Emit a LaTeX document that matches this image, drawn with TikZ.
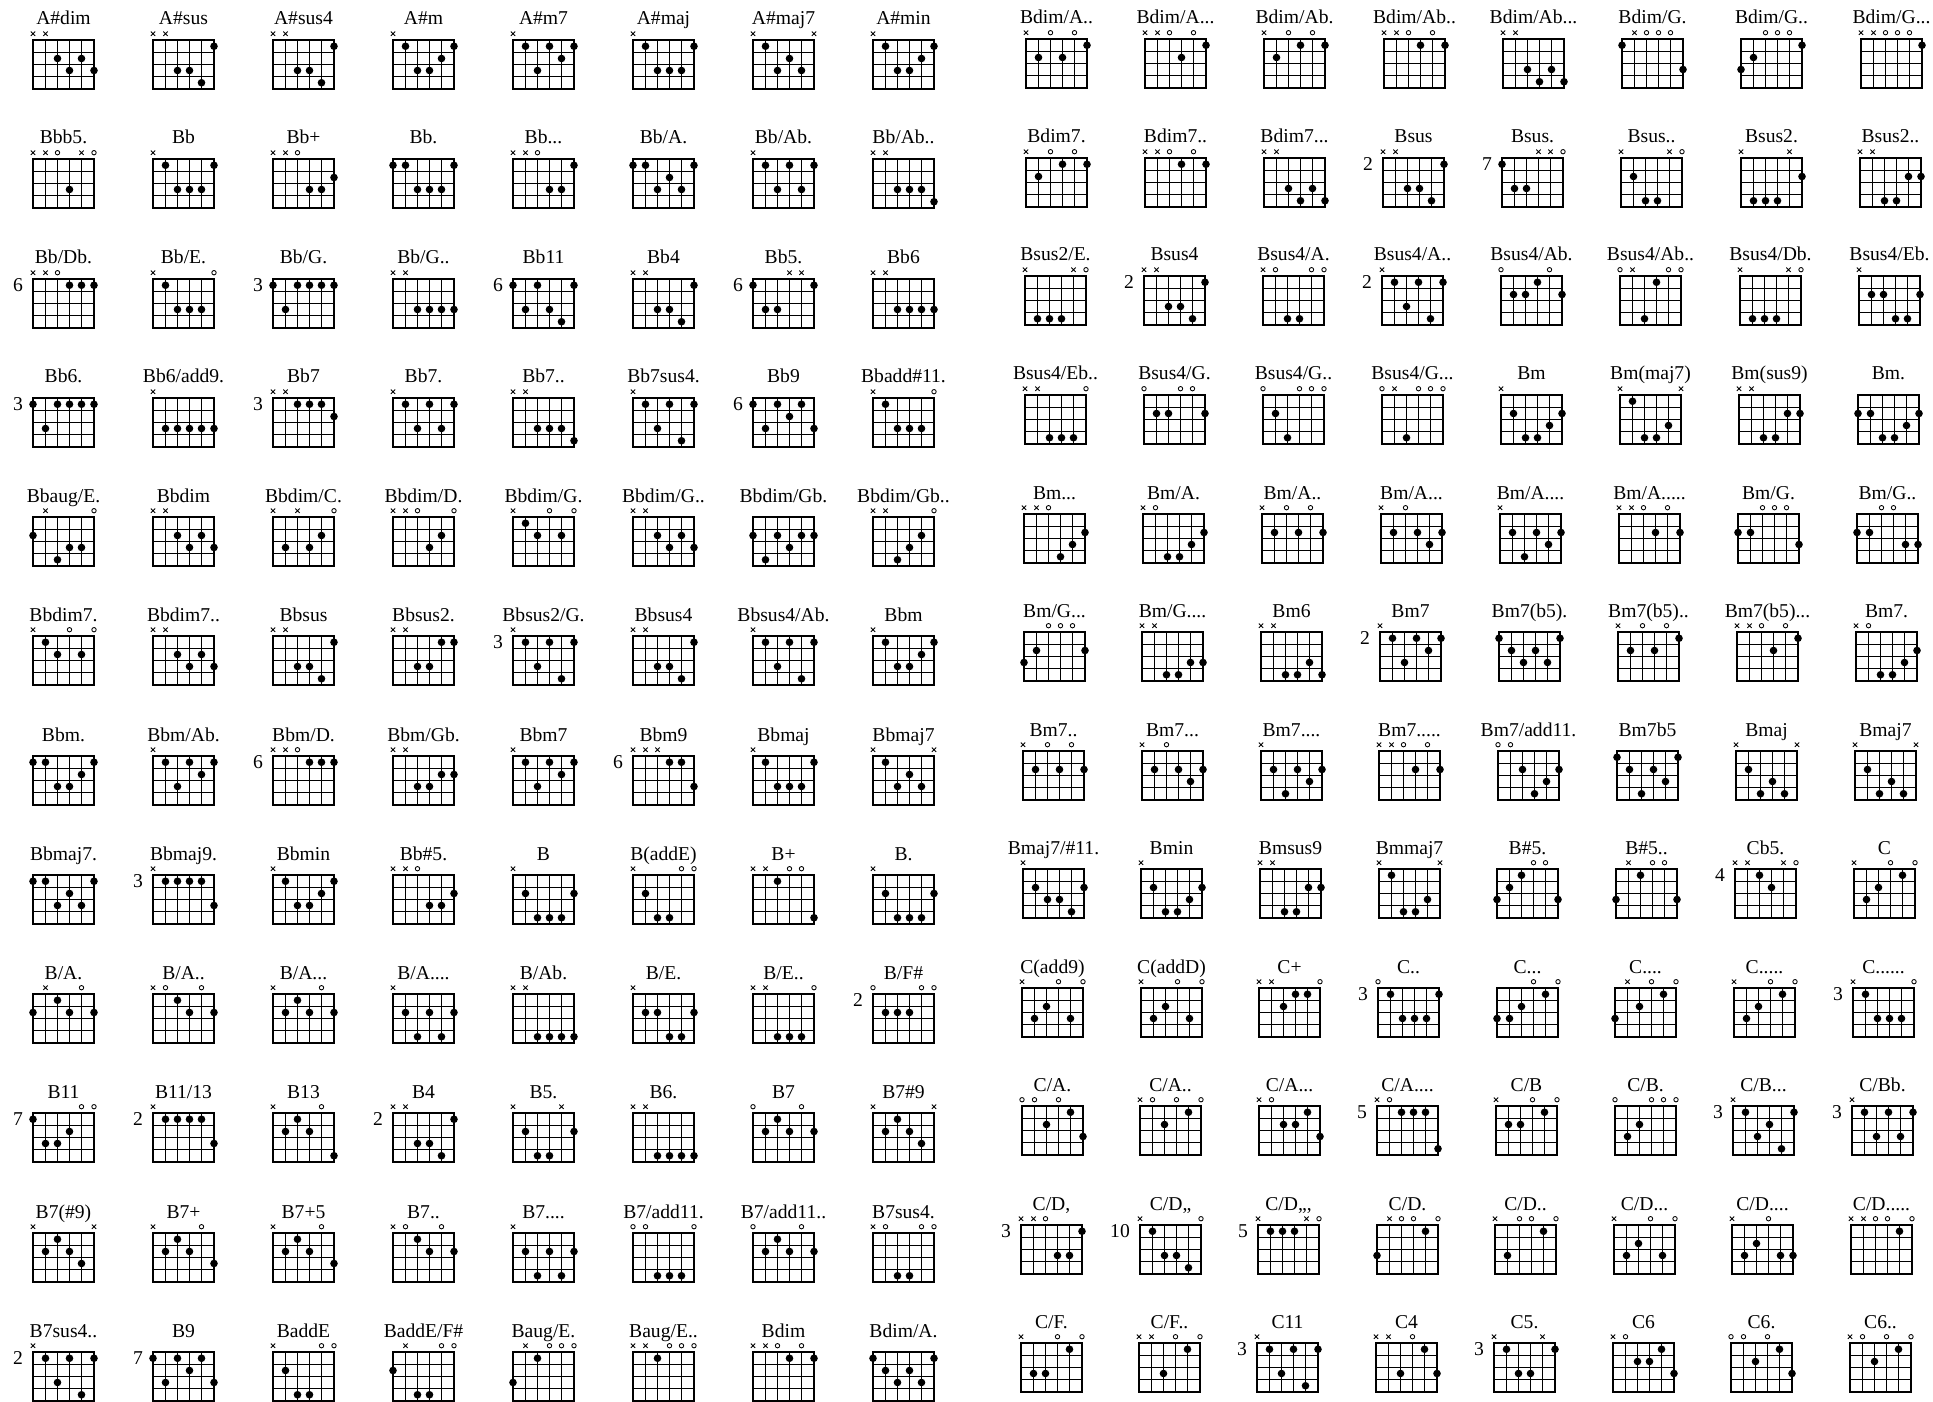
\documentclass[tikz,border=0pt]{standalone}
\usepackage{fontspec}
\setmainfont{Liberation Serif}
\tikzset{
  fretl/.style={line width=1.25bp},
  frame/.style={line width=2.2bp},
  mk/.style={line width=0.85bp},
  lbl/.style={font=\fontsize{19.6bp}{22bp}\selectfont, anchor=base, inner sep=0pt},
  frl/.style={font=\fontsize{19.6bp}{22bp}\selectfont, anchor=east, inner sep=0pt},
}
\newcommand\chd[6]{%
 \begin{scope}[shift={(#1,#2)}]
  \foreach \k in {12.5,24.5,36.5} \draw[fretl] (0,\k) -- (61,\k);
  \foreach \k in {12.5,24.5,36.5,48.5} \draw[fretl] (\k,0) -- (\k,49);
  \draw[frame] (0,0) rectangle (61,49);
  \node[lbl] (n#3) at (30.5,-15) {#4};
  \foreach \v [count=\i from 0] in {#5} {
    \pgfmathsetmacro\sx{{0,12.5,24.5,36.5,48.5,61}[\i]}
    \if x\v \draw[mk] (\sx-2.2,-8.5) -- (\sx+2.2,-4.1) (\sx-2.2,-4.1) -- (\sx+2.2,-8.5);
    \else\if o\v \draw[mk] (\sx,-6.3) circle (2.2bp);
    \else
      \pgfmathsetmacro\sy{{6.25,18.5,30.5,42.75}[\v-1]}
      \fill (\sx,\sy) circle (3.8bp);
    \fi\fi
  }
  \if\relax\detokenize{#6}\relax\else \node[frl] (f#3) at (-10,6.25) {#6};\fi
 \end{scope}}
\newcommand\cL[5]{%
  \pgfmathsetmacro\gx{round(32.7+120*#2)}%
  \pgfmathsetmacro\gy{round(40+119.27*#1)}%
  \chd{\gx}{\gy}{L#1-#2}{#3}{#4}{#5}}
\newcommand\cR[5]{%
  \pgfmathsetmacro\gx{round(1026-0.5*#1+(119.24-0.07*#1)*#2)}%
  \pgfmathsetmacro\gy{round(39.3+118.55*#1)}%
  \chd{\gx}{\gy}{R#1-#2}{#3}{#4}{#5}}
\begin{document}
\begin{tikzpicture}[x=1bp,y=-1bp]
\fill[white] (0,0) rectangle (1933,1402);
\useasboundingbox (0,0) rectangle (1933,1402);
% ---------- left block ----------
\cL{0}{0}{A\#dim}{x,x,2,3,2,3}{}
\cL{0}{1}{A\#sus}{x,x,3,3,4,1}{}
\cL{0}{2}{A\#sus4}{x,x,3,3,4,1}{}
\cL{0}{3}{A\#m}{x,1,3,3,2,1}{}
\cL{0}{4}{A\#m7}{x,1,3,1,2,1}{}
\cL{0}{5}{A\#maj}{x,1,3,3,3,1}{}
\cL{0}{6}{A\#maj7}{x,1,3,2,3,x}{}
\cL{0}{7}{A\#min}{x,1,3,3,2,1}{}
\cL{1}{0}{Bbb5.}{x,x,o,3,x,o}{}
\cL{1}{1}{Bb}{x,1,3,3,3,1}{}
\cL{1}{2}{Bb+}{x,x,o,3,3,2}{}
\cL{1}{3}{Bb.}{1,1,3,3,3,1}{}
\cL{1}{4}{Bb...}{x,x,o,3,3,1}{}
\cL{1}{5}{Bb/A.}{1,1,3,2,3,1}{}
\cL{1}{6}{Bb/Ab.}{x,1,3,1,3,1}{}
\cL{1}{7}{Bb/Ab..}{x,x,3,3,3,4}{}
\cL{2}{0}{Bb/Db.}{x,x,o,1,1,1}{6}
\cL{2}{1}{Bb/E.}{x,1,3,3,3,o}{}
\cL{2}{2}{Bb/G.}{1,3,1,1,1,1}{3}
\cL{2}{3}{Bb/G..}{x,x,3,3,3,3}{}
\cL{2}{4}{Bb11}{1,3,1,3,4,1}{6}
\cL{2}{5}{Bb4}{x,x,3,3,4,1}{}
\cL{2}{6}{Bb5.}{1,3,3,x,x,1}{6}
\cL{2}{7}{Bb6}{x,x,3,3,3,3}{}
\cL{3}{0}{Bb6.}{1,3,1,1,1,1}{3}
\cL{3}{1}{Bb6/add9.}{x,3,3,3,3,3}{}
\cL{3}{2}{Bb7}{x,x,1,1,1,2}{3}
\cL{3}{3}{Bb7.}{x,1,3,1,3,1}{}
\cL{3}{4}{Bb7..}{x,x,3,3,3,4}{}
\cL{3}{5}{Bb7sus4.}{x,1,3,1,4,1}{}
\cL{3}{6}{Bb9}{1,3,1,2,1,3}{6}
\cL{3}{7}{Bbadd\#11.}{x,1,3,3,3,o}{}
\cL{4}{0}{Bbaug/E.}{2,x,4,3,3,o}{}
\cL{4}{1}{Bbdim}{x,x,2,3,2,3}{}
\cL{4}{2}{Bbdim/C.}{x,3,x,3,2,o}{}
\cL{4}{3}{Bbdim/D.}{x,x,o,3,2,o}{}
\cL{4}{4}{Bbdim/G.}{x,1,2,o,2,o}{}
\cL{4}{5}{Bbdim/G..}{x,x,2,3,2,3}{}
\cL{4}{6}{Bbdim/Gb.}{2,4,2,3,2,2}{}
\cL{4}{7}{Bbdim/Gb..}{x,x,4,3,2,o}{}
\cL{5}{0}{Bbdim7.}{x,1,2,o,2,o}{}
\cL{5}{1}{Bbdim7..}{x,x,2,3,2,3}{}
\cL{5}{2}{Bbsus}{x,x,3,3,4,1}{}
\cL{5}{3}{Bbsus2.}{x,x,3,3,1,1}{}
\cL{5}{4}{Bbsus2/G.}{x,1,3,1,4,1}{3}
\cL{5}{5}{Bbsus4}{x,x,3,3,4,1}{}
\cL{5}{6}{Bbsus4/Ab.}{x,1,3,1,4,1}{}
\cL{5}{7}{Bbm}{x,1,3,3,2,1}{}
\cL{6}{0}{Bbm.}{1,1,3,3,2,1}{}
\cL{6}{1}{Bbm/Ab.}{x,1,3,1,2,1}{}
\cL{6}{2}{Bbm/D.}{x,x,o,1,1,1}{6}
\cL{6}{3}{Bbm/Gb.}{x,x,3,3,2,2}{}
\cL{6}{4}{Bbm7}{x,1,3,1,2,1}{}
\cL{6}{5}{Bbm9}{x,x,x,1,1,3}{6}
\cL{6}{6}{Bbmaj}{x,1,3,3,3,1}{}
\cL{6}{7}{Bbmaj7}{x,1,3,2,3,x}{}
\cL{7}{0}{Bbmaj7.}{1,1,3,2,3,1}{}
\cL{7}{1}{Bbmaj9.}{x,1,1,1,1,3}{3}
\cL{7}{2}{Bbmin}{x,1,3,3,2,1}{}
\cL{7}{3}{Bb\#5.}{x,x,o,3,3,2}{}
\cL{7}{4}{B}{x,2,4,4,4,2}{}
\cL{7}{5}{B(addE)}{x,2,4,4,o,o}{}
\cL{7}{6}{B+}{x,x,1,o,o,4}{}
\cL{7}{7}{B.}{x,2,4,4,4,2}{}
\cL{8}{0}{B/A.}{2,x,1,2,o,2}{}
\cL{8}{1}{B/A..}{x,o,1,2,o,2}{}
\cL{8}{2}{B/A...}{x,2,1,2,o,2}{}
\cL{8}{3}{B/A....}{x,2,4,2,4,2}{}
\cL{8}{4}{B/Ab.}{x,x,4,4,4,4}{}
\cL{8}{5}{B/E.}{x,2,2,4,4,2}{}
\cL{8}{6}{B/E..}{x,x,4,4,4,o}{}
\cL{8}{7}{B/F\#}{o,2,2,2,o,o}{2}
\cL{9}{0}{B11}{1,3,3,2,o,o}{7}
\cL{9}{1}{B11/13}{x,1,1,1,1,3}{2}
\cL{9}{2}{B13}{x,2,1,2,o,4}{}
\cL{9}{3}{B4}{x,x,3,3,4,1}{2}
\cL{9}{4}{B5.}{x,2,4,4,x,2}{}
\cL{9}{5}{B6.}{x,x,4,4,4,4}{}
\cL{9}{6}{B7}{o,2,1,2,o,2}{}
\cL{9}{7}{B7\#9}{x,2,1,2,3,x}{}
\cL{10}{0}{B7(\#9)}{x,2,1,2,3,x}{}
\cL{10}{1}{B7+}{x,2,1,2,o,3}{}
\cL{10}{2}{B7+5}{x,2,1,2,o,3}{}
\cL{10}{3}{B7..}{x,o,1,2,o,2}{}
\cL{10}{4}{B7....}{x,2,4,2,4,2}{}
\cL{10}{5}{B7/add11.}{o,o,4,4,4,o}{}
\cL{10}{6}{B7/add11..}{o,2,1,2,o,2}{}
\cL{10}{7}{B7sus4.}{x,o,4,4,o,o}{}
\cL{11}{0}{B7sus4..}{x,1,3,1,4,1}{2}
\cL{11}{1}{B9}{1,3,1,2,1,3}{7}
\cL{11}{2}{BaddE}{x,2,4,4,o,o}{}
\cL{11}{3}{BaddE/F\#}{2,x,4,4,o,o}{}
\cL{11}{4}{Baug/E.}{3,x,1,o,o,o}{}
\cL{11}{5}{Baug/E..}{x,x,1,o,o,o}{}
\cL{11}{6}{Bdim}{x,x,o,1,o,1}{}
\cL{11}{7}{Bdim/A.}{1,2,3,2,3,1}{}
% ---------- right block ----------
\cR{0}{0}{Bdim/A..}{x,2,o,2,o,1}{}
\cR{0}{1}{Bdim/A...}{x,x,o,2,o,1}{}
\cR{0}{2}{Bdim/Ab.}{x,2,o,1,o,1}{}
\cR{0}{3}{Bdim/Ab..}{x,x,o,1,o,1}{}
\cR{0}{4}{Bdim/Ab...}{x,x,3,4,3,4}{}
\cR{0}{5}{Bdim/G.}{1,x,o,o,o,3}{}
\cR{0}{6}{Bdim/G..}{3,2,o,o,o,1}{}
\cR{0}{7}{Bdim/G...}{x,x,o,o,o,1}{}
\cR{1}{0}{Bdim7.}{x,2,o,1,o,1}{}
\cR{1}{1}{Bdim7..}{x,x,o,1,o,1}{}
\cR{1}{2}{Bdim7...}{x,x,3,4,3,4}{}
\cR{1}{3}{Bsus}{x,x,3,3,4,1}{2}
\cR{1}{4}{Bsus.}{1,3,3,x,x,o}{7}
\cR{1}{5}{Bsus..}{x,2,4,4,x,o}{}
\cR{1}{6}{Bsus2.}{x,4,4,4,x,2}{}
\cR{1}{7}{Bsus2..}{x,x,4,4,2,2}{}
\cR{2}{0}{Bsus2/E.}{x,4,4,4,x,o}{}
\cR{2}{1}{Bsus4}{x,x,3,3,4,1}{2}
\cR{2}{2}{Bsus4/A.}{x,o,4,4,o,o}{}
\cR{2}{3}{Bsus4/A..}{x,1,3,1,4,1}{2}
\cR{2}{4}{Bsus4/Ab.}{o,2,2,1,o,2}{}
\cR{2}{5}{Bsus4/Ab..}{o,x,4,1,o,o}{}
\cR{2}{6}{Bsus4/Db.}{x,4,4,4,x,o}{}
\cR{2}{7}{Bsus4/Eb.}{x,2,2,4,4,2}{}
\cR{3}{0}{Bsus4/Eb..}{x,x,4,4,4,o}{}
\cR{3}{1}{Bsus4/G.}{o,2,2,o,o,2}{}
\cR{3}{2}{Bsus4/G..}{o,2,4,o,o,o}{}
\cR{3}{3}{Bsus4/G...}{o,x,4,o,o,o}{}
\cR{3}{4}{Bm}{x,2,4,4,3,2}{}
\cR{3}{5}{Bm(maj7)}{x,1,4,4,3,x}{}
\cR{3}{6}{Bm(sus9)}{x,x,4,4,2,2}{}
\cR{3}{7}{Bm.}{2,2,4,4,3,2}{}
\cR{4}{0}{Bm...}{x,x,o,4,3,2}{}
\cR{4}{1}{Bm/A.}{x,o,4,4,3,2}{}
\cR{4}{2}{Bm/A..}{x,2,o,2,o,2}{}
\cR{4}{3}{Bm/A...}{x,2,o,2,3,2}{}
\cR{4}{4}{Bm/A....}{x,2,4,2,3,2}{}
\cR{4}{5}{Bm/A.....}{x,x,o,2,o,2}{}
\cR{4}{6}{Bm/G.}{2,2,o,o,o,3}{}
\cR{4}{7}{Bm/G..}{2,2,o,o,3,3}{}
\cR{5}{0}{Bm/G...}{3,2,o,o,o,2}{}
\cR{5}{1}{Bm/G....}{x,x,4,4,3,3}{}
\cR{5}{2}{Bm6}{x,x,4,4,3,4}{}
\cR{5}{3}{Bm7}{x,1,3,1,2,1}{2}
\cR{5}{4}{Bm7(b5).}{1,2,3,2,3,1}{}
\cR{5}{5}{Bm7(b5)..}{x,2,o,2,o,1}{}
\cR{5}{6}{Bm7(b5)...}{x,x,o,2,o,1}{}
\cR{5}{7}{Bm7.}{x,o,4,4,3,2}{}
\cR{6}{0}{Bm7..}{x,2,o,2,o,2}{}
\cR{6}{1}{Bm7...}{x,2,o,2,3,2}{}
\cR{6}{2}{Bm7....}{x,2,4,2,3,2}{}
\cR{6}{3}{Bm7.....}{x,x,o,2,o,2}{}
\cR{6}{4}{Bm7/add11.}{o,o,2,4,3,2}{}
\cR{6}{5}{Bm7b5}{1,2,4,2,3,1}{}
\cR{6}{6}{Bmaj}{x,2,4,3,4,x}{}
\cR{6}{7}{Bmaj7}{x,2,4,3,4,x}{}
\cR{7}{0}{Bmaj7/\#11.}{x,2,3,3,4,2}{}
\cR{7}{1}{Bmin}{x,2,4,4,3,2}{}
\cR{7}{2}{Bmsus9}{x,x,4,4,2,2}{}
\cR{7}{3}{Bmmaj7}{x,1,4,4,3,x}{}
\cR{7}{4}{B\#5.}{3,2,1,o,o,3}{}
\cR{7}{5}{B\#5..}{3,x,1,o,o,3}{}
\cR{7}{6}{Cb5.}{x,x,1,2,x,o}{4}
\cR{7}{7}{C}{x,3,2,o,1,o}{}
\cR{8}{0}{C(add9)}{x,3,2,o,3,o}{}
\cR{8}{1}{C(addD)}{x,3,2,o,3,o}{}
\cR{8}{2}{C+}{x,x,2,1,1,o}{}
\cR{8}{3}{C..}{o,1,3,3,3,1}{3}
\cR{8}{4}{C...}{3,3,2,o,1,o}{}
\cR{8}{5}{C....}{3,x,2,o,1,o}{}
\cR{8}{6}{C.....}{x,3,2,o,1,o}{}
\cR{8}{7}{C......}{x,1,3,3,3,o}{3}
\cR{9}{0}{C/A.}{o,o,2,o,1,3}{}
\cR{9}{1}{C/A..}{x,o,2,o,1,o}{}
\cR{9}{2}{C/A...}{x,o,2,2,1,3}{}
\cR{9}{3}{C/A....}{x,o,1,1,1,4}{5}
\cR{9}{4}{C/B}{x,2,2,o,1,o}{}
\cR{9}{5}{C/B.}{o,3,2,o,o,o}{}
\cR{9}{6}{C/B...}{x,1,3,2,4,1}{3}
\cR{9}{7}{C/Bb.}{x,1,3,1,3,1}{3}
\cR{10}{0}{C/D,}{x,x,o,3,3,1}{3}
\cR{10}{1}{C/D,,}{x,1,3,3,4,o}{10}
\cR{10}{2}{C/D,,,}{x,1,1,1,x,o}{5}
\cR{10}{3}{C/D.}{3,x,o,o,1,o}{}
\cR{10}{4}{C/D..}{x,3,o,o,1,o}{}
\cR{10}{5}{C/D...}{x,3,2,o,3,o}{}
\cR{10}{6}{C/D....}{x,3,2,o,3,3}{}
\cR{10}{7}{C/D.....}{x,x,o,o,1,o}{}
\cR{11}{0}{C/F.}{x,3,3,o,1,o}{}
\cR{11}{1}{C/F..}{x,x,3,o,1,o}{}
\cR{11}{2}{C11}{x,1,3,1,4,1}{3}
\cR{11}{3}{C4}{x,x,3,o,1,3}{}
\cR{11}{4}{C5.}{x,1,3,3,x,1}{3}
\cR{11}{5}{C6}{x,o,2,2,1,3}{}
\cR{11}{6}{C6.}{o,o,2,o,1,3}{}
\cR{11}{7}{C6..}{x,o,2,o,1,o}{}
\end{tikzpicture}
\end{document}
